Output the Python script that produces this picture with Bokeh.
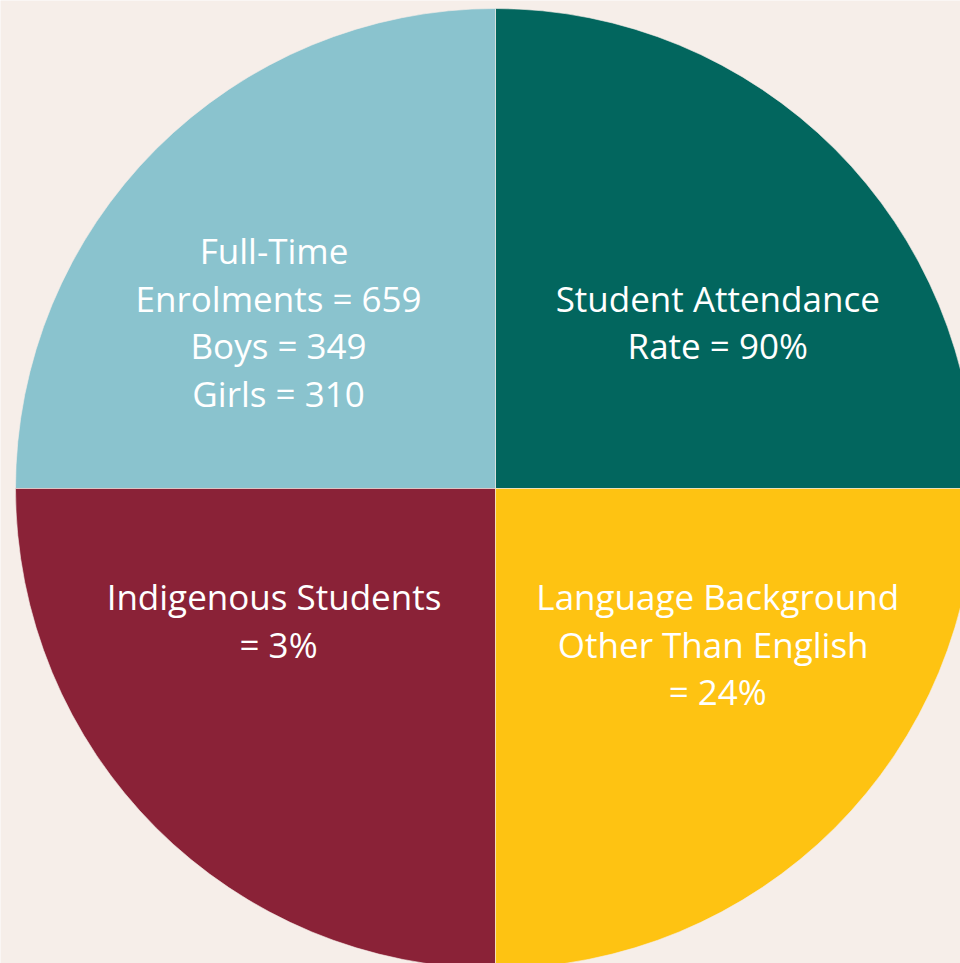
import math
from bokeh.plotting import figure
from bokeh.models import ColumnDataSource
from bokeh.core.properties import value
from bokeh.embed import file_html
from bokeh.resources import INLINE

# ---- data ----
slice_names = ["Student Attendance", "Full-Time Enrolments", "Indigenous Students", "LBOTE"]
slice_shares = [1, 1, 1, 1]
slice_colors = ["#02665e", "#8ac3ce", "#8a2237", "#fec312"]
slice_labels = [
    ["Student Attendance", "Rate = 90%"],
    ["Full-Time ", "Enrolments = 659", "Boys = 349", "Girls = 310"],
    ["Indigenous Students ", "= 3%"],
    ["Language Background", "Other Than English ", "= 24%"],
]

BG = "#f6eee9"
W, H = 960, 963
R = 480.0
CX_PX, CY_PX = 495, 488  # pie centre inside the figure (pixels from top-left)

p = figure(width=W, height=H, output_backend="svg", toolbar_location=None,
           x_range=(-CX_PX, W - CX_PX), y_range=(-(H - CY_PX), CY_PX),
           min_border=0, background_fill_color=BG, border_fill_color=BG)
p.axis.visible = False
p.grid.visible = False
p.outline_line_color = None

total = float(sum(slice_shares))
starts, ends, mids = [], [], []
acc = 0.0
for s in slice_shares:
    a0 = 2 * math.pi * acc / total
    acc += s
    a1 = 2 * math.pi * acc / total
    starts.append(a0)
    ends.append(a1)
    mids.append((a0 + a1) / 2)

src = ColumnDataSource(dict(name=slice_names, start=starts, end=ends, color=slice_colors))
p.wedge(x=0, y=0, radius=R, start_angle="start", end_angle="end", fill_color="color",
        line_color=BG, line_width=0.6, source=src)

# labels
LH = 47.4
tx, ty, tt = [], [], []
for mid, lines in zip(mids, slice_labels):
    c, s = math.cos(mid), math.sin(mid)
    ax = (0.463 if c > 0 else -0.452) * R
    n = len(lines)
    if s > 0:
        first = 0.347 * R + (n - 1) / 2 * LH
    else:
        first = -0.226 * R
    for i, ln in enumerate(lines):
        tx.append(ax)
        ty.append(first - i * LH)
        tt.append(ln)

lsrc = ColumnDataSource(dict(x=tx, y=ty, text=tt))
p.text(x="x", y="y", text="text", source=lsrc, text_color="white",
       text_font=value("Open Sans"), text_font_size="35px",
       text_align="center", text_baseline="middle")

html = file_html(p, INLINE)
html = html.replace("<body>", '<body style="background-color:%s;">' % BG, 1)
open("out.html", "w").write(html)
